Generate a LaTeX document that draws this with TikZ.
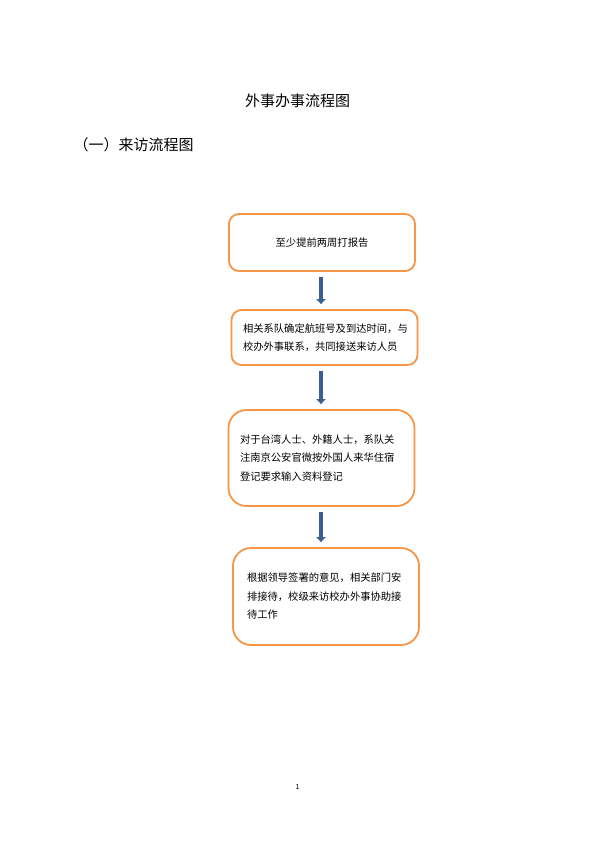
\documentclass[tikz,border=0pt]{standalone}
\usepackage{fontspec}
\setmainfont{Noto Sans CJK SC}
\usetikzlibrary{arrows.meta}
\definecolor{boxorange}{HTML}{F79646}
\definecolor{arrowblue}{HTML}{3B5F8E}

\begin{document}
\begin{tikzpicture}[x=1pt, y=-1pt,
	stepbox/.style={draw=boxorange, line width=1.8pt, fill=white, text width=163pt, inner xsep=11.5pt, align=left, font=\fontsize{10.3}{18.5}\selectfont},
	flowarrow/.style={draw=arrowblue, line width=4pt, -{Triangle[width=9pt, length=5pt]}, shorten <=5pt, shorten >=5pt}]
	\useasboundingbox[fill=white] (0,0) rectangle (595,841);
	\node (title) at (297.5,101) {\fontsize{15}{18}\selectfont 外事办事流程图};
	\node[anchor=west] (heading) at (70,145) {\fontsize{15}{18}\selectfont （一）来访流程图};
	\node[stepbox, rounded corners=10pt, minimum height=57pt, align=center] (b1) at (322,242.5) {至少提前两周打报告};
	\node[stepbox, rounded corners=10pt, minimum height=55pt] (b2) at (324.5,337.5) {相关系队确定航班号及到达时间，与\\校办外事联系，共同接送来访人员};
	\node[stepbox, rounded corners=18pt, minimum height=96pt] (b3) at (321.5,458) {对于台湾人士、外籍人士，系队关\\注南京公安官微按外国人来华住宿\\登记要求输入资料登记};
	\node[stepbox, rounded corners=18pt, minimum height=97pt, inner xsep=14pt, text width=158pt] (b4) at (326,596.5) {根据领导签署的意见，相关部门安\\排接待，校级来访校办外事协助接\\待工作};
	\node (page) at (297.5,787) {\fontsize{7}{8}\selectfont 1};
	% arrows
	\coordinate (ax) at (321,0);
	\draw[flowarrow] (b1.south -| ax) -- (b2.north -| ax);
	\draw[flowarrow] (b2.south -| ax) -- (b3.north -| ax);
	\draw[flowarrow] (b3.south -| ax) -- (b4.north -| ax);
\end{tikzpicture}
\end{document}
